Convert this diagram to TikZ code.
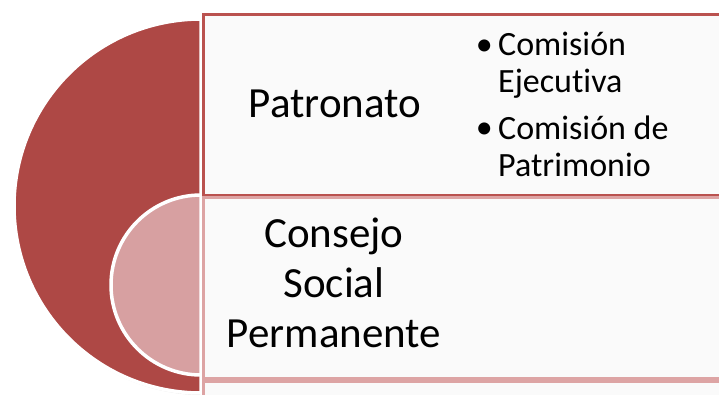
\documentclass[tikz,border=0pt]{standalone}
\usepackage{fontspec}
\setmainfont[Ligatures=NoCommon]{Carlito}
\usetikzlibrary{shadows}
\definecolor{patred}{HTML}{AE4845}
\definecolor{patline}{HTML}{BA524F}
\definecolor{conpink}{HTML}{D7A0A1}
\definecolor{conline}{HTML}{DDA4A4}
\tikzset{
  band/.style={line width=3pt, fill=black!2},
  halfdisc/.style={draw=white, line width=3.5pt},
  bigtext/.style={font=\fontsize{43}{50}\selectfont, align=center, anchor=base, inner sep=0pt},
  itemtext/.style={font=\fontsize{34}{37}\selectfont, align=left, anchor=base west, inner sep=0pt},
  bullet/.style={font=\fontsize{34}{37}\selectfont, anchor=base east, inner sep=0pt}
}
\begin{document}
\begin{tikzpicture}[x=1pt,y=-1pt]
\useasboundingbox (0,0) rectangle (719,394);
\clip (0,0) rectangle (719,394);
% half discs on the left
\draw[halfdisc, fill=patred, drop shadow={opacity=0.2, shadow xshift=1pt, shadow yshift=-2pt}] (201,19) arc[start angle=270, end angle=90, radius=187] -- cycle;
\draw[halfdisc, fill=conpink] (201,195) arc[start angle=270, end angle=90, radius=90] -- cycle;
% bands
\draw[band, draw=patline] (203,14) rectangle (760,195);
\draw[band, draw=conline] (203,197) rectangle (760,378);
\draw[band, draw=conline] (203,381) rectangle (760,460);
% texts
\node[bigtext] (pat) at (335,117) {Patronato};
\node[bigtext] (csp) at (334,347) {Consejo\\Social\\Permanente};
\node[itemtext] (ce) at (498,92) {Comisión\\Ejecutiva};
\node[itemtext] (cp) at (498,176) {Comisión de\\Patrimonio};
\node[bullet] (b1) at (493,55) {•};
\node[bullet] (b2) at (493,138) {•};
\end{tikzpicture}
\end{document}
